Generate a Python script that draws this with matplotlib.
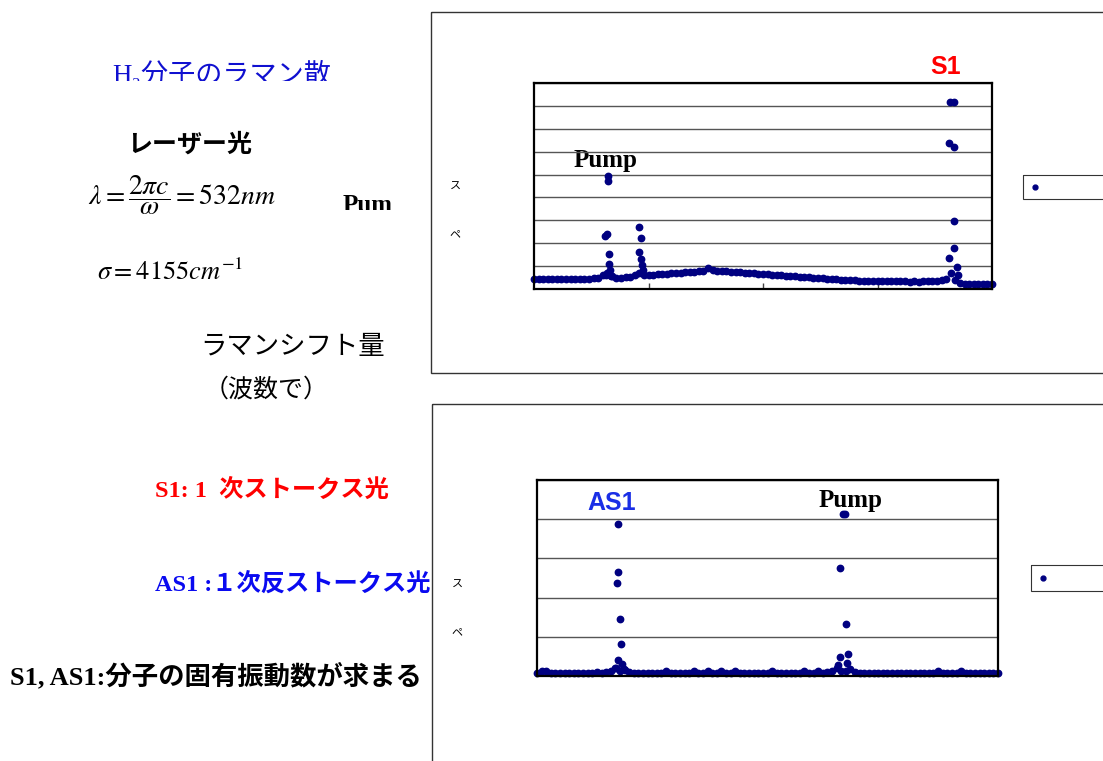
import numpy as np
import matplotlib
matplotlib.use("Agg")
import matplotlib.pyplot as plt
from matplotlib.patches import Rectangle

plt.rcParams['mathtext.fontset'] = 'stix'
plt.rcParams['font.family'] = ['Noto Sans CJK JP', 'DejaVu Sans']

W, H = 1103, 761

# ---------------------------------------------------------------
# Data (x in % of axis width)
# ---------------------------------------------------------------
# top spectrum (S1 side) - baseline channels 0..100
top_base_x = list(range(101))
top_base_y = [0.44, 0.45, 0.44, 0.43, 0.44, 0.44, 0.43, 0.44, 0.45, 0.44,
              0.44, 0.45, 0.45, 0.47, 0.50, 0.62, 0.70, 0.55, 0.50, 0.50,
              0.51, 0.52, 0.60, 0.72, 0.62, 0.60, 0.62, 0.64, 0.66, 0.67,
              0.69, 0.70, 0.72, 0.73, 0.74, 0.76, 0.77, 0.80, 0.92, 0.85,
              0.80, 0.78, 0.77, 0.76, 0.74, 0.73, 0.72, 0.70, 0.69, 0.67,
              0.66, 0.64, 0.63, 0.61, 0.60, 0.58, 0.57, 0.55, 0.54, 0.52,
              0.51, 0.49, 0.48, 0.47, 0.45, 0.44, 0.42, 0.41, 0.40, 0.39,
              0.38, 0.37, 0.36, 0.36, 0.35, 0.35, 0.34, 0.34, 0.34, 0.33,
              0.33, 0.33, 0.32, 0.33, 0.32, 0.33, 0.33, 0.34, 0.35, 0.38,
              0.45, 0.70, 0.40, 0.26, 0.24, 0.23, 0.23, 0.22, 0.23, 0.22,
              0.22]
# peak points: pump, second line, S1
top_peak_x = [15.6, 15.9, 16.1, 16.1, 16.3, 16.4, 16.5, 15.8, 16.9,
              22.9, 23.4, 22.9, 23.4, 23.6, 23.7,
              90.8, 91.8, 90.7, 91.6, 91.8, 91.8, 90.7, 92.3, 92.6]
top_peak_y = [2.30, 2.40, 4.93, 4.72, 1.53, 1.10, 0.83, 0.60, 0.55,
              2.69, 2.21, 1.63, 1.31, 1.05, 0.83,
              8.15, 8.15, 6.39, 6.19, 2.98, 1.78, 1.37, 0.95, 0.61]

# bottom spectrum (AS1 side)
bot_base_x = list(range(101))
bot_base_y = [0.08, 0.12, 0.12, 0.08, 0.08, 0.08, 0.08, 0.08, 0.08, 0.08,
              0.08, 0.08, 0.08, 0.10, 0.08, 0.09, 0.12, 0.20, 0.12, 0.15,
              0.10, 0.08, 0.08, 0.08, 0.08, 0.08, 0.08, 0.08, 0.13, 0.08,
              0.08, 0.08, 0.08, 0.08, 0.12, 0.08, 0.08, 0.12, 0.08, 0.08,
              0.12, 0.08, 0.08, 0.12, 0.08, 0.08, 0.08, 0.08, 0.08, 0.08,
              0.08, 0.12, 0.08, 0.08, 0.08, 0.08, 0.08, 0.08, 0.12, 0.08,
              0.08, 0.12, 0.08, 0.09, 0.12, 0.20, 0.14, 0.14, 0.18, 0.10,
              0.08, 0.08, 0.08, 0.08, 0.08, 0.08, 0.08, 0.08, 0.08, 0.08,
              0.08, 0.08, 0.08, 0.08, 0.08, 0.08, 0.08, 0.13, 0.08, 0.08,
              0.08, 0.08, 0.13, 0.08, 0.08, 0.08, 0.08, 0.08, 0.08, 0.08,
              0.08]
bot_peak_x = [17.6, 17.6, 17.4, 18.0, 18.3, 17.5, 18.4, 17.1, 18.8,
              66.4, 66.8, 65.7, 67.1, 65.7, 67.4, 67.2, 65.2]
bot_peak_y = [3.87, 2.65, 2.38, 1.46, 0.81, 0.40, 0.30, 0.20, 0.18,
              4.13, 4.13, 2.76, 1.32, 0.48, 0.55, 0.34, 0.28]

navy = '#000080'
serif_jp = ['Liberation Serif', 'DejaVu Serif', 'Noto Sans CJK JP']

fig = plt.figure(figsize=(W / 100, H / 100), dpi=100)

# overlay in pixel coords for slide texts / frames
ov = fig.add_axes([0, 0, 1, 1])
ov.set_xlim(0, W)
ov.set_ylim(H, 0)
ov.axis('off')

# chart frames (cut at right / bottom edge of slide)
ov.add_patch(Rectangle((431, 12), 720, 361, fill=False, lw=1, ec='#333'))
ov.add_patch(Rectangle((432, 404), 720, 400, fill=False, lw=1, ec='#333'))

# legend stubs
ov.add_patch(Rectangle((1023, 175), 120, 24, fill=False, lw=0.8, ec='#333'))
ov.plot([1035], [187], 'o', color=navy, ms=3.5)
ov.add_patch(Rectangle((1031, 565), 120, 26, fill=False, lw=0.8, ec='#333'))
ov.plot([1043], [578], 'o', color=navy, ms=3.5)


def clip_below(t, ypx):
    # hide the lower part of a text (cut off on the slide)
    t.set_clip_on(True)
    t.set_clip_path(Rectangle((0, 0), W, ypx, transform=ov.transData))


t = ov.text(112, 83, 'H₂分子のラマン散', fontsize=19.5, color='#1010d0',
            family=serif_jp, va='baseline', ha='left')
clip_below(t, 81)
ov.text(127, 145, 'レーザー光', fontsize=18, fontweight='bold', va='center')
ov.text(88, 195, r'$\lambda=\dfrac{2\pi c}{\omega}=532nm$', fontsize=20,
        va='center')
t = ov.text(343, 211.5, 'Pum', fontsize=18, fontweight='bold',
            family='Liberation Serif', va='baseline')
clip_below(t, 210)
ov.text(97, 273, r'$\sigma=4155cm^{-1}$', fontsize=19, va='center')
ov.text(200, 346, 'ラマンシフト量', fontsize=19, va='center')
ov.text(204, 390, '（波数で）', fontsize=18, va='center')
ov.text(155, 490, 'S1: 1  次ストークス光', fontsize=17.5, fontweight='bold',
        color='#ff0000', family=serif_jp, va='center')
ov.text(155, 584, 'AS1 :１次反ストークス光', fontsize=17.5, fontweight='bold',
        color='#0a0af0', family=serif_jp, va='center')
ov.text(10, 676, 'S1, AS1:分子の固有振動数が求まる', fontsize=19,
        fontweight='bold', family=serif_jp, va='center')

# chart labels
ov.text(946, 67, 'S1', fontsize=18, fontweight='bold', color='#ff0000',
        family='Liberation Sans', ha='center', va='center')
ov.text(606, 160, 'Pump', fontsize=18, fontweight='bold',
        family='Liberation Serif', ha='center', va='center')
ov.text(455, 187, 'ス', fontsize=8, ha='center', va='center')
ov.text(455, 234, 'ペ', fontsize=8, ha='center', va='center')
ov.text(612, 503, 'AS1', fontsize=18, fontweight='bold', color='#1a2ee6',
        family='Liberation Sans', ha='center', va='center')
ov.text(851, 500, 'Pump', fontsize=18, fontweight='bold',
        family='Liberation Serif', ha='center', va='center')
ov.text(457, 585, 'ス', fontsize=8, ha='center', va='center')
ov.text(457, 632, 'ペ', fontsize=8, ha='center', va='center')


def setup(ax, ymax):
    ax.set_xlim(0, 100)
    ax.set_ylim(0, ymax)
    ax.set_xticks([25, 50, 75])
    ax.set_yticks(range(ymax + 1))
    ax.set_xticklabels([])
    ax.set_yticklabels([])
    ax.tick_params(axis='x', direction='in', length=4, width=1, color='#444')
    ax.tick_params(axis='y', length=0)
    ax.grid(axis='y', color='#555', lw=1)
    ax.set_axisbelow(True)
    for s in ax.spines.values():
        s.set_linewidth(1.6)
        s.set_color('black')
    ax.patch.set_alpha(0)


ax1 = fig.add_axes([534 / W, 1 - 289 / H, 458 / W, 206 / H])
setup(ax1, 9)
ax1.plot(top_base_x, top_base_y, 'o', color=navy, ms=4.6, clip_on=False)
ax1.plot(top_peak_x, top_peak_y, 'o', color=navy, ms=4.6, clip_on=False)

ax2 = fig.add_axes([537 / W, 1 - 676 / H, 461 / W, 196 / H])
setup(ax2, 5)
ax2.plot(bot_base_x, bot_base_y, 'o', color=navy, ms=4.6, clip_on=False)
ax2.plot(bot_peak_x, bot_peak_y, 'o', color=navy, ms=4.6, clip_on=False)

fig.savefig('out.png', dpi=100)
